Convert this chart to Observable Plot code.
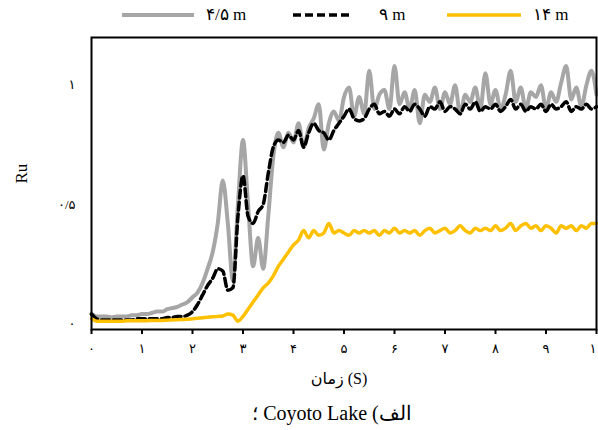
<!DOCTYPE html>
<html>
<head>
<meta charset="utf-8">
<script src="https://cdn.jsdelivr.net/npm/d3@7"></script>
<script src="https://cdn.jsdelivr.net/npm/@observablehq/plot@0.6"></script>
<style>
  html, body { margin: 0; padding: 0; background: #fff; }
  body { width: 598px; height: 430px; overflow: hidden; font-family: "Liberation Serif", "DejaVu Serif", serif; }
  #legend { height: 30px; position: relative; font-size: 17px; }
  .lg { position: absolute; top: 4px; display: flex; align-items: center; gap: 8px; }
  #caption { margin-left: 67px; width: 530px; text-align: center; font-size: 20px; height: 30px; line-height: 26px; }
  svg [aria-label="x-axis tick"] { stroke-width: 2; }
</style>
</head>
<body>
<div id="legend"></div>
<div id="chart"></div>
<div id="caption"><span dir="rtl">الف) Coyoto Lake ؛</span></div>
<script>
// ---- data (t = 0.0 … 10.0 s, step 0.1) ----
const seriesNames = ["۴/۵ m", "۹ m", "۱۴ m"];
const seriesColors = ["#a6a6a6", "#000000", "#ffc000"];
const xTicks = [0, 1, 2, 3, 4, 5, 6, 7, 8, 9, 10];
const yTicks = [0, 0.5, 1];
const xLabel = "زمان (S)";
const yLabel = "Ru";

const ru45 = [
  0.04, 0.03, 0.03, 0.03, 0.025, 0.03, 0.03, 0.03, 0.035, 0.035,
  0.04, 0.04, 0.045, 0.05, 0.05, 0.06, 0.065, 0.07, 0.08, 0.09,
  0.11, 0.13, 0.17, 0.23, 0.30, 0.42, 0.60, 0.42, 0.18, 0.50,
  0.77, 0.50, 0.24, 0.36, 0.23, 0.45, 0.70, 0.80, 0.74, 0.80,
  0.76, 0.84, 0.74, 0.82, 0.86, 0.92, 0.73, 0.84, 0.89, 0.85,
  0.95, 0.99, 0.87, 0.95, 0.88, 1.06, 0.90, 0.96, 0.98, 0.90,
  1.08, 0.92, 0.97, 0.90, 0.98, 0.84, 0.96, 0.93, 0.99, 0.90,
  0.97, 0.92, 1.00, 0.88, 0.96, 0.93, 0.99, 0.90, 1.05, 0.92,
  0.98, 0.90, 0.96, 1.06, 0.93, 0.99, 0.90, 0.97, 0.95, 1.00,
  0.90, 0.97, 0.93, 1.01, 1.08, 0.94, 0.99, 0.91, 1.00, 1.06,
  0.96
];
const ru9 = [
  0.04, 0.02, 0.015, 0.015, 0.015, 0.015, 0.015, 0.015, 0.015, 0.02,
  0.02, 0.02, 0.02, 0.02, 0.02, 0.025, 0.025, 0.03, 0.03, 0.035,
  0.05, 0.08, 0.12, 0.16, 0.19, 0.23, 0.22, 0.14, 0.15, 0.45,
  0.62, 0.45, 0.42, 0.47, 0.50, 0.63, 0.74, 0.77, 0.76, 0.79,
  0.77, 0.81, 0.74, 0.80, 0.84, 0.81, 0.80, 0.77, 0.81, 0.84,
  0.87, 0.90, 0.86, 0.85, 0.86, 0.90, 0.92, 0.88, 0.89, 0.87,
  0.90, 0.88, 0.91, 0.89, 0.92, 0.90, 0.87, 0.91, 0.90, 0.93,
  0.89, 0.91, 0.90, 0.88, 0.92, 0.90, 0.93, 0.89, 0.91, 0.90,
  0.92, 0.89, 0.91, 0.94, 0.90, 0.92, 0.89, 0.91, 0.90, 0.92,
  0.89, 0.92, 0.90, 0.91, 0.93, 0.89, 0.91, 0.90, 0.92, 0.90,
  0.91
];
const ru14 = [
  0.02, 0.01, 0.01, 0.01, 0.01, 0.01, 0.01, 0.012, 0.012, 0.012,
  0.012, 0.012, 0.013, 0.013, 0.013, 0.014, 0.015, 0.016, 0.017, 0.018,
  0.02, 0.022, 0.024, 0.026, 0.028, 0.03, 0.032, 0.04, 0.035, 0.01,
  0.03, 0.06, 0.09, 0.12, 0.15, 0.17, 0.20, 0.24, 0.27, 0.30,
  0.33, 0.35, 0.39, 0.36, 0.39, 0.37, 0.38, 0.42, 0.38, 0.39,
  0.38, 0.37, 0.39, 0.38, 0.39, 0.38, 0.39, 0.37, 0.39, 0.38,
  0.40, 0.38, 0.39, 0.38, 0.39, 0.37, 0.39, 0.40, 0.38, 0.39,
  0.40, 0.38, 0.39, 0.41, 0.39, 0.38, 0.40, 0.39, 0.40, 0.39,
  0.41, 0.39, 0.40, 0.42, 0.39, 0.41, 0.42, 0.40, 0.41, 0.39,
  0.41, 0.40, 0.38, 0.41, 0.40, 0.41, 0.39, 0.41, 0.40, 0.42,
  0.42
];

const time = ru45.map((_, i) => i / 10);
const fa = v => String(v).replace(/[0-9]/g, d => "۰۱۲۳۴۵۶۷۸۹"[+d]).replace(".", "/");

const rows = (vals, s) => vals.map((v, i) => ({t: time[i], ru: v, s}));
const d45 = rows(ru45, seriesNames[0]);
const d9 = rows(ru9, seriesNames[1]);
const d14 = rows(ru14, seriesNames[2]);

// ---- legend ----
const legend = document.getElementById("legend");
const legendPos = [122, 293, 447];
const legendW = [72, 58, 74];
seriesNames.forEach((name, i) => {
  const item = document.createElement("div");
  item.className = "lg";
  item.style.left = legendPos[i] + "px";
  const dash = i === 1 ? 'stroke-dasharray="8,4"' : "";
  item.innerHTML = `<svg width="${legendW[i]}" height="20"><line x1="0" x2="${legendW[i]}" y1="10" y2="10" stroke="${seriesColors[i]}" stroke-width="${i === 0 ? 4 : 3.5}" ${dash}/></svg><span style="margin-left:${i===1?20:4}px">${name}</span>`;
  legend.appendChild(item);
});

// ---- chart ----
const font = '"Liberation Serif", "DejaVu Sans", serif';
const chart = Plot.plot({
  width: 598,
  height: 370,
  marginTop: 7,
  marginLeft: 91,
  marginRight: 2,
  marginBottom: 71,
  style: {fontFamily: font, fontSize: "13px", color: "#000", background: "#fff", overflow: "hidden"},
  x: {domain: [0, 10], ticks: xTicks, tickFormat: fa, tickSize: 5, tickPadding: 9, label: null},
  y: {domain: [-0.025, 1.2], ticks: yTicks, tickFormat: fa, tickSize: 0, tickPadding: 16, label: null},
  marks: [
    Plot.line(d45, {x: "t", y: "ru", stroke: seriesColors[0], strokeWidth: 4, curve: "monotone-x"}),
    Plot.line(d9, {x: "t", y: "ru", stroke: seriesColors[1], strokeWidth: 3.5, strokeDasharray: "8,4", curve: "monotone-x"}),
    Plot.line(d14, {x: "t", y: "ru", stroke: seriesColors[2], strokeWidth: 3.5, curve: "monotone-x"}),
    Plot.frame({stroke: "#000", strokeWidth: 2}),
    Plot.text([xLabel], {text: d => d, frameAnchor: "bottom", dy: 54, dx: -5, fontSize: 16, fontFamily: font}),
    Plot.text([yLabel], {text: d => d, frameAnchor: "left", dx: -70, rotate: -90, fontSize: 17, fontFamily: font})
  ]
});
document.getElementById("chart").appendChild(chart);
</script>
</body>
</html>
